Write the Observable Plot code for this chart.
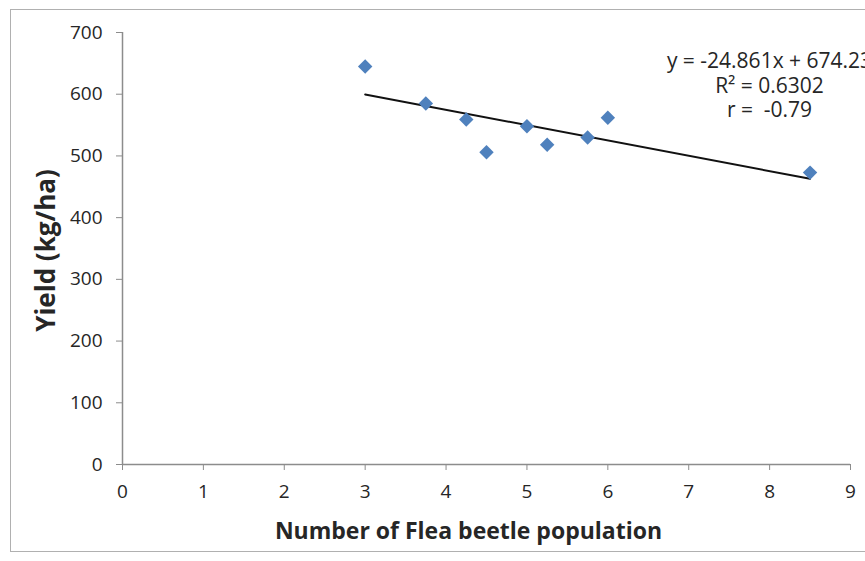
<!DOCTYPE html>
<html>
<head>
<meta charset="utf-8">
<script src="https://cdn.jsdelivr.net/npm/d3@7"></script>
<script src="https://cdn.jsdelivr.net/npm/@observablehq/plot@0.6"></script>
<style>
  html, body { margin: 0; padding: 0; background: #ffffff; }
  #wrap { position: relative; width: 865px; height: 561px; overflow: hidden; }
  #border { position: absolute; left: 10px; top: 9px; width: 900px; height: 543px;
            border: 1px solid #b0b0b0; box-sizing: border-box; pointer-events: none; }
</style>
</head>
<body>
<div id="wrap"><div id="border"></div></div>
<script>
// Data
const fleaBeetles = [3, 3.75, 4.25, 4.5, 5, 5.25, 5.75, 6, 8.5];
const yieldKgHa   = [645, 585, 559, 506, 548, 518, 530, 562, 473];
const xTicks = [0, 1, 2, 3, 4, 5, 6, 7, 8, 9];
const yTicks = [0, 100, 200, 300, 400, 500, 600, 700];
const slope = -24.861;
const intercept = 674.23;
const equationLines = ["y = -24.861x + 674.23", "R\u00b2 = 0.6302", "r =  -0.79"];
const xTitle = "Number of Flea beetle population";
const yTitle = "Yield (kg/ha)";

const points = fleaBeetles.map((x, i) => ({x, y: yieldKgHa[i]}));
const trend = d3.extent(fleaBeetles).map(x => ({x, y: slope * x + intercept}));

const font = "'Open Sans', 'DejaVu Sans', sans-serif";
const axisColor = "#8c8c8c";
const textColor = "#262626";

const chart = Plot.plot({
  width: 865,
  height: 561,
  marginLeft: 122,
  marginRight: 15,
  marginTop: 32,
  marginBottom: 97,
  style: {fontFamily: font, fontSize: "19px", background: "transparent", overflow: "visible"},
  x: {domain: [0, 9]},
  y: {domain: [0, 700]},
  marks: [
    Plot.ruleY([0], {stroke: axisColor, strokeWidth: 1.5}),
    Plot.ruleX([0], {stroke: axisColor, strokeWidth: 1.5}),
    Plot.axisX({ticks: xTicks, tickSize: 6, tickPadding: 14, stroke: axisColor, color: textColor,
                fontSize: 19, label: null, tickFormat: d3.format("d")}),
    Plot.axisY({ticks: yTicks, tickSize: 6, tickPadding: 14, stroke: axisColor, color: textColor,
                fontSize: 19, label: null, tickFormat: d3.format("d")}),
    Plot.line(trend, {x: "x", y: "y", stroke: "#111111", strokeWidth: 2}),
    Plot.dot(points, {x: "x", y: "y", symbol: "diamond2", r: 6.5, fill: "#4f81bd", stroke: "none"}),
    Plot.text([equationLines.join("\n")], {frameAnchor: "top-right", dx: -81, dy: 18,
                textAnchor: "middle", lineAnchor: "top", lineHeight: 1.17,
                fontSize: 21, fill: textColor}),
    Plot.text([xTitle], {frameAnchor: "bottom", dx: -18, dy: 67, lineAnchor: "middle",
                fontSize: 23, fontWeight: "bold", fill: textColor}),
    Plot.text([yTitle], {frameAnchor: "left", dx: -76, dy: 2, rotate: -90, textAnchor: "middle",
                lineAnchor: "middle", fontSize: 26, fontWeight: "bold", fill: textColor})
  ]
});
document.getElementById("wrap").prepend(chart);
</script>
</body>
</html>
